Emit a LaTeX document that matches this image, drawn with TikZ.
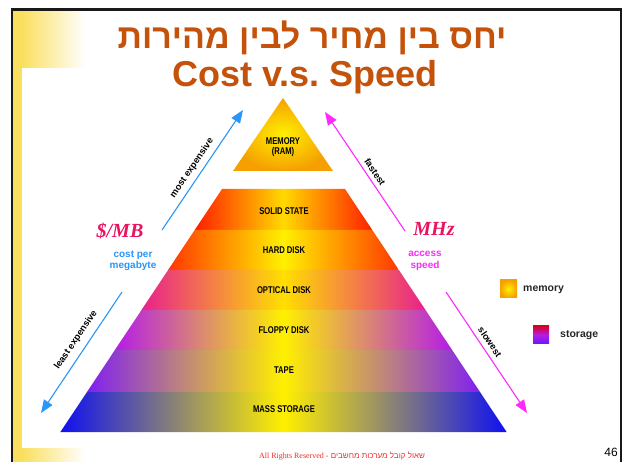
\documentclass[tikz,border=0pt]{standalone}
\usepackage{fontspec}
\setmainfont{Liberation Sans}
\newfontfamily\hebfont[Script=Hebrew]{Liberation Sans}
\newfontfamily\seriffont{Liberation Serif}
\usetikzlibrary{arrows.meta}
\TeXXeTstate=1
\definecolor{slideyellow}{RGB}{250,223,95}
\definecolor{titlecol}{RGB}{196,82,10}
\definecolor{arrowblue}{RGB}{40,150,250}
\definecolor{arrowmag}{RGB}{255,40,255}
\definecolor{unitred}{RGB}{232,20,95}
\definecolor{footred}{RGB}{240,45,45}
\definecolor{memorange}{RGB}{245,160,0}
\definecolor{cSolid}{RGB}{255,30,0}
\definecolor{cHard}{RGB}{255,55,0}
\definecolor{cOptical}{RGB}{232,32,140}
\definecolor{cFloppy}{RGB}{180,28,232}
\definecolor{cTape}{RGB}{128,32,240}
\definecolor{cMass}{RGB}{16,16,240}
\definecolor{pyryellow}{RGB}{255,240,0}
\newcommand\condtxt[1]{\scalebox{0.78}[1]{#1}}
\begin{document}
\begin{tikzpicture}[x=1pt,y=-1pt,
  lbl/.style={font=\bfseries\fontsize{9.8}{10}\selectfont, text=black, inner sep=0pt},
  bluearr/.style={draw=arrowblue, line width=1.1pt, -{Triangle[length=13pt,width=10pt]}},
  magarr/.style={draw=arrowmag, line width=1.1pt, -{Triangle[length=13pt,width=10pt]}},
  arrtxt/.style={font=\bfseries\fontsize{9.3}{10}\selectfont, text=black, inner sep=0pt},
  unit/.style={font=\seriffont\bfseries\itshape\fontsize{20}{20}\selectfont, text=unitred, inner sep=0pt},
  subtxt/.style={font=\bfseries\fontsize{10}{11.5}\selectfont, align=center, inner sep=0pt},
  legtxt/.style={font=\bfseries\fontsize{10.5}{11}\selectfont, text=black!85, inner sep=0pt, anchor=west},
  band/.style={middle color=pyryellow}
]
\useasboundingbox (0,0) rectangle (624,462);
% slide background
\fill[white] (0,0) rectangle (624,462);
\fill[slideyellow] (13,10) rectangle (22,462);
\shade[left color=slideyellow, right color=white] (22,10) rectangle (85,462);
\fill[white] (22,68) rectangle (621,448);
\draw[line width=2.4pt, black!90] (12.2,462) -- (12.2,9.5) -- (621.2,9.5) -- (621.2,462);

% titles
\node[font=\hebfont\bfseries\fontsize{34}{34}\selectfont, text=titlecol, anchor=base] (heb) at (312,49) {\beginR יחס בין מחיר לבין מהירות\endR};
\node[font=\bfseries\fontsize{36}{36}\selectfont, text=titlecol, anchor=base] (eng) at (305,87) {Cost v.s.\ Speed};

% pyramid
\shade[inner color=pyryellow, outer color=memorange] (283,98) -- (233,171) -- (333,171) -- cycle;
\shade[band, left color=cSolid, right color=cSolid, middle color=pyryellow!80!orange] (222,189) -- (345,189) -- (372.3,230) -- (194.7,230) -- cycle;
\shade[band, left color=cHard, right color=cHard, middle color=pyryellow] (194.7,230) -- (372.3,230) -- (398.9,270) -- (168.1,270) -- cycle;
\shade[band, left color=cOptical, right color=cOptical, middle color=pyryellow!85!orange] (168.1,270) -- (398.9,270) -- (425.5,310) -- (141.5,310) -- cycle;
\shade[band, left color=cFloppy, right color=cFloppy, middle color=pyryellow] (141.5,310) -- (425.5,310) -- (452.1,350) -- (114.9,350) -- cycle;
\shade[band, left color=cTape, right color=cTape, middle color=pyryellow] (114.9,350) -- (452.1,350) -- (480,392) -- (87,392) -- cycle;
\shade[band, left color=cMass, right color=cMass, middle color=pyryellow] (87,392) -- (480,392) -- (506.6,432) -- (60.4,432) -- cycle;

% labels
\node[lbl, align=center] (mem) at (283,147) {\condtxt{MEMORY}\\\condtxt{(RAM)}};
\node[lbl] (solid) at (284,211) {\condtxt{SOLID STATE}};
\node[lbl] (hard) at (284,250) {\condtxt{HARD DISK}};
\node[lbl] (optical) at (284,290) {\condtxt{OPTICAL DISK}};
\node[lbl] (floppy) at (284,330) {\condtxt{FLOPPY DISK}};
\node[lbl] (tape) at (284,370) {\condtxt{TAPE}};
\node[lbl] (mass) at (284,409) {\condtxt{MASS STORAGE}};

% arrows
\coordinate (bA1) at (162,230); \coordinate (bA2) at (243,110);
\coordinate (bB1) at (122,292); \coordinate (bB2) at (41,413);
\coordinate (mA1) at (405,231); \coordinate (mA2) at (325,112);
\coordinate (mB1) at (446,292); \coordinate (mB2) at (527,413);
\draw[bluearr] (bA1) -- (bA2);
\draw[bluearr] (bB1) -- (bB2);
\draw[magarr] (mA1) -- (mA2);
\draw[magarr] (mB1) -- (mB2);

\node[arrtxt, rotate=55.8] (most) at (192,168) {most expensive};
\node[arrtxt, rotate=55.8] (least) at (76,340) {least expensive};
\node[arrtxt, rotate=-56] (fast) at (375,172) {fastest};
\node[arrtxt, rotate=-56] (slow) at (490,342) {slowest};

% units
\node[unit] (mb) at (120,231) {\$/MB};
\node[subtxt, text=arrowblue] (cpm) at (133,261) {cost per\\megabyte};
\node[unit] (mhz) at (434,229) {MHz};
\node[subtxt, text=arrowmag] (acc) at (425,261) {access\\speed};

% legend
\shade[inner color=pyryellow, outer color=memorange] (500,280) rectangle (517,298);
\node[legtxt] (legmem) at (523,290) {memory};
\shade[top color=red!85!blue, bottom color=cTape!80!blue, middle color=cFloppy] (533,326) rectangle (549,344);
\node[legtxt] (legsto) at (560,335) {storage};

% footer
\node[font=\fontsize{8}{9}\selectfont, text=footred, inner sep=0pt] (foot) at (342,456) {{\seriffont All Rights Reserved -} {\hebfont\beginR שאול קובל מערכות מחשבים\endR}};
\node[font=\fontsize{12}{12}\selectfont, anchor=east, inner sep=0pt] (pg) at (618,452) {46};
\end{tikzpicture}
\end{document}
